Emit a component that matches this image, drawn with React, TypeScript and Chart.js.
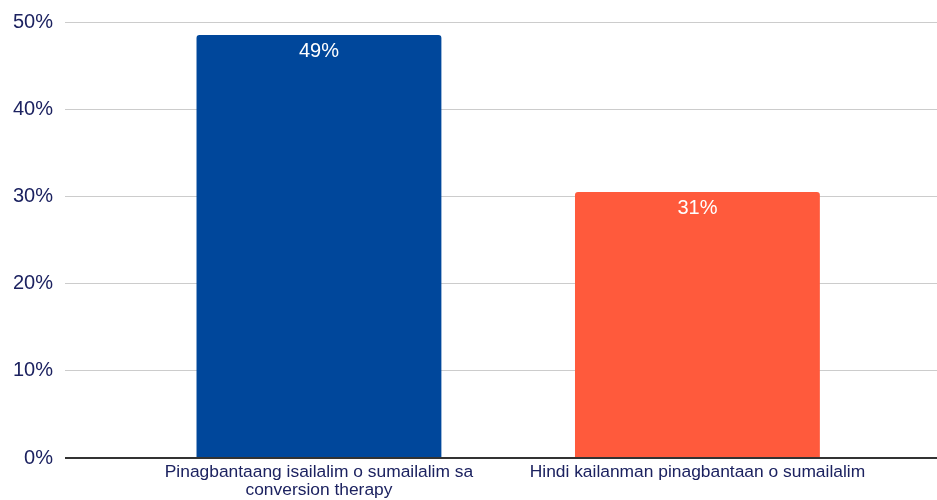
import React, { useEffect, useRef } from "react";
import { Chart, registerables } from "chart.js";

Chart.register(...registerables);

const categories: string[] = [
  "Pinagbantaang isailalim o sumailalim sa conversion therapy",
  "Hindi kailanman pinagbantaan o sumailalim",
];
const values: number[] = [48.5, 30.5];
const valueLabels: string[] = ["49%", "31%"];
const barColors: string[] = ["#00479B", "#FF5A3C"];
const yTicks: number[] = [0, 10, 20, 30, 40, 50];

const FONT = "'Liberation Sans', Arial, sans-serif";
const NAVY = "#1c2260";

function wrap(text: string, maxChars: number): string[] {
  const words = text.split(" ");
  const lines: string[] = [];
  let cur = "";
  for (const w of words) {
    const next = cur ? cur + " " + w : w;
    if (next.length > maxChars && cur) {
      lines.push(cur);
      cur = w;
    } else {
      cur = next;
    }
  }
  if (cur) lines.push(cur);
  return lines;
}

const valueLabelPlugin = {
  id: "valueLabels",
  afterDatasetsDraw(chart: any) {
    const ctx = chart.ctx;
    const meta = chart.getDatasetMeta(0);
    ctx.save();
    ctx.fillStyle = "#ffffff";
    ctx.font = `20px ${FONT}`;
    ctx.textAlign = "center";
    ctx.textBaseline = "middle";
    meta.data.forEach((bar: any, i: number) => {
      ctx.fillText(valueLabels[i], bar.x, bar.y + 16);
    });
    ctx.restore();
  },
};

export default function App() {
  const ref = useRef<HTMLCanvasElement | null>(null);

  useEffect(() => {
    document.body.style.margin = "0";
    const canvas = ref.current!;
    const chart = new Chart(canvas, {
      type: "bar",
      data: {
        datasets: [
          {
            data: values.map((v, i) => ({ x: i + 1, y: v })),
            backgroundColor: barColors,
            borderRadius: { topLeft: 3, topRight: 3, bottomLeft: 0, bottomRight: 0 },
            borderSkipped: "bottom",
            barPercentage: 1,
            categoryPercentage: 0.647,
          },
        ],
      },
      options: {
        animation: false,
        responsive: false,
        maintainAspectRatio: false,
        layout: { padding: { top: 0, right: 0, left: 0, bottom: 0 } },
        plugins: {
          legend: { display: false },
          tooltip: { enabled: false },
        },
        scales: {
          x: {
            type: "linear",
            offset: false,
            min: 0.329,
            max: 2.633,
            grid: { display: false, drawTicks: false, offset: false },
            border: { display: false },
            afterBuildTicks: (scale: any) => {
              scale.ticks = categories.map((_, i) => ({ value: i + 1 }));
            },
            afterFit: (scale: any) => {
              scale.height = 42;
            },
            ticks: {
              autoSkip: false,
              maxRotation: 0,
              minRotation: 0,
              padding: 6,
              color: NAVY,
              font: { family: FONT, size: 17.4, lineHeight: 1.0 },
              callback: (v: any) => {
                const idx = Math.round(Number(v)) - 1;
                return categories[idx] ? wrap(categories[idx], 42) : "";
              },
            },
          },
          y: {
            min: 0,
            max: 50,
            afterBuildTicks: (scale: any) => {
              scale.ticks = yTicks.map((v) => ({ value: v }));
            },
            afterFit: (scale: any) => {
              scale.width = 65;
              scale.paddingTop = 22;
            },
            grid: {
              drawTicks: false,
              color: (c: any) => (c.tick && c.tick.value === 0 ? "#333333" : "#cccccc"),
              lineWidth: (c: any) => (c.tick && c.tick.value === 0 ? 2 : 1),
            },
            border: { display: false },
            ticks: {
              padding: 12,
              color: NAVY,
              font: { family: FONT, size: 20, lineHeight: 1.0 },
              callback: (v: any) => v + "%",
            },
          },
        },
      },
      plugins: [valueLabelPlugin],
    } as any);
    return () => chart.destroy();
  }, []);

  return (
    <div style={{ width: 937, height: 500 }}>
      <canvas ref={ref} width={937} height={500} style={{ display: "block" }} />
    </div>
  );
}
